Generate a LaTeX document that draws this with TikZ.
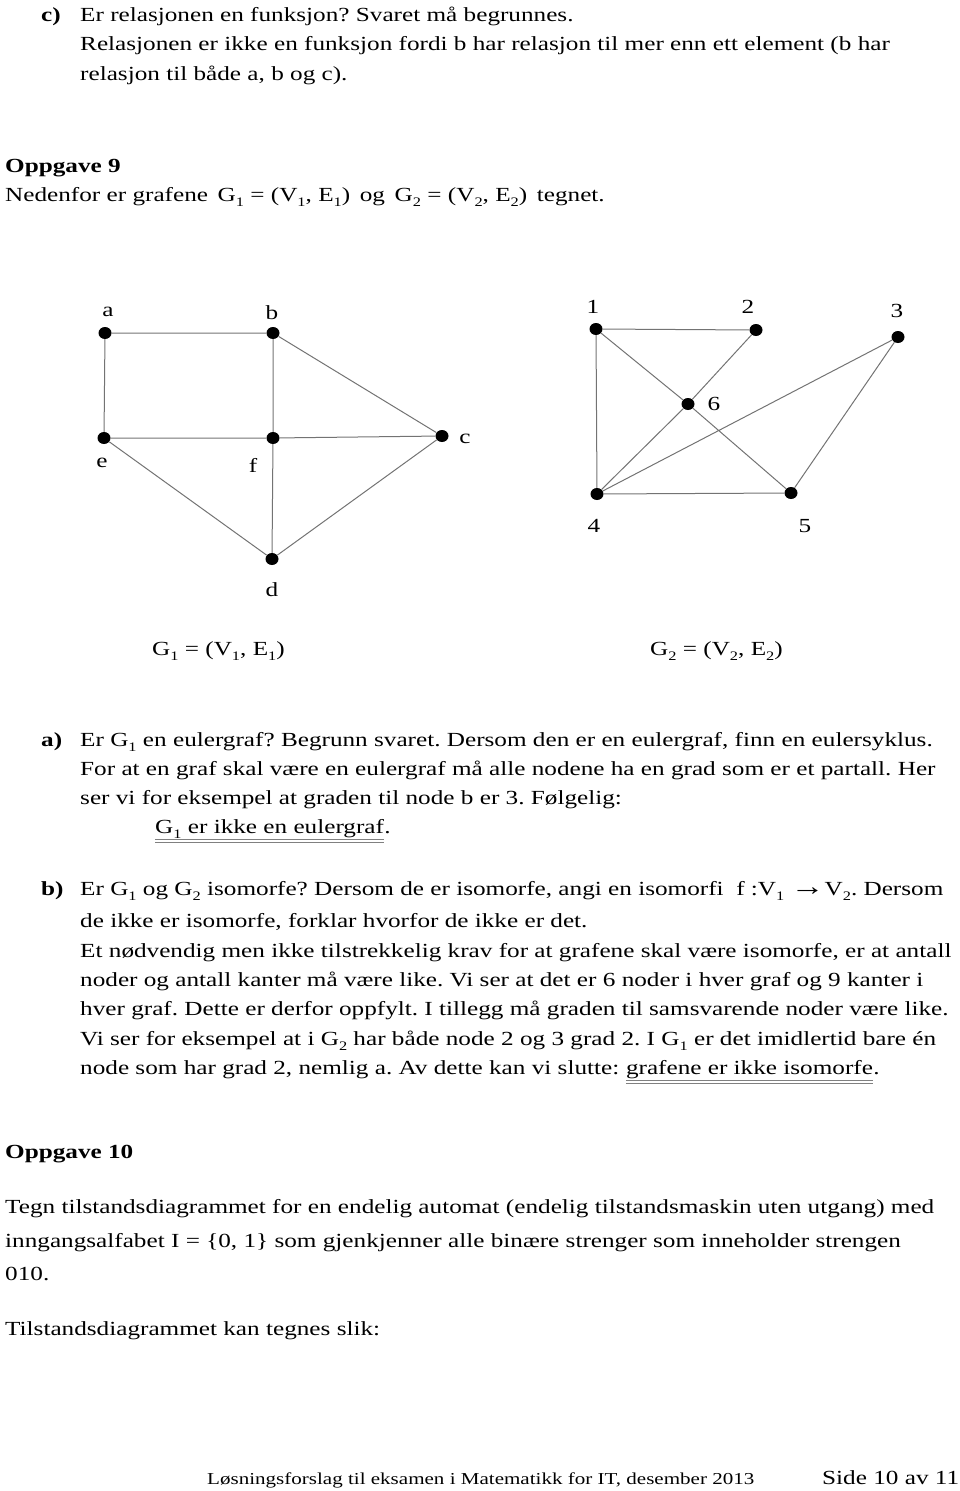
\documentclass[tikz,border=0pt]{standalone}
\usepackage{fontspec}
\setmainfont{Liberation Serif}[FakeStretch=1.26]
\usepackage{xcolor}
\usepackage{tikz}
\usetikzlibrary{shapes.geometric,positioning,calc}

\newcommand{\lowidx}[1]{\raisebox{-0.28em}{\fontsize{13}{13}\selectfont #1}}
\frenchspacing

\begin{document}
\begin{tikzpicture}[
            x=1pt, y=-1pt,
            txt/.style={anchor=base west, inner sep=0pt, font=\fontsize{20}{24}\selectfont},
            hd/.style={txt, font=\fontsize{20}{24}\selectfont\bfseries},
            vtx/.style={ellipse, fill=black, inner sep=0pt, minimum width=13pt, minimum height=12pt},
            vlbl/.style={inner sep=0pt, font=\fontsize{20}{24}\selectfont},
            edge/.style={draw=black!55, line width=1pt},
            ul/.style={draw=black!50, line width=1pt}
        ]
            \useasboundingbox (0,0) rectangle (960,1491);

            % c)
            \node[hd] (cl) at (41,21) {c)};
            \node[txt] (c1) at (80,21) {Er relasjonen en funksjon? Svaret må begrunnes.};
            \node[txt] (c2) at (80,50.5) {Relasjonen er ikke en funksjon fordi b har relasjon til mer enn ett element (b har};
            \node[txt] (c3) at (80,80) {relasjon til både a, b og c).};

            % Oppgave 9
            \node[hd] (opg9) at (5,172) {Oppgave 9};
            \node[txt] (intro) at (5,201) {Nedenfor er grafene \,G\lowidx{1} = (V\lowidx{1}, E\lowidx{1})\, og \,G\lowidx{2} = (V\lowidx{2}, E\lowidx{2})\, tegnet.};

            % G1
            \node[vtx] (a) at (105,333) {};
            \node[vtx] (b) at (273,333) {};
            \node[vtx] (e) at (104,438) {};
            \node[vtx] (f) at (273,438) {};
            \node[vtx] (c) at (442,436) {};
            \node[vtx] (d) at (272,559) {};
            \node[vlbl] (la) at (108,312) {a};
            \node[vlbl] (lb) at (272,313) {b};
            \node[vlbl] (le) at (102,463) {e};
            \node[vlbl] (lf) at (253,465) {f};
            \node[vlbl] (lc) at (465,439) {c};
            \node[vlbl] (ld) at (272,590) {d};
            \draw[edge] (a) -- (b) (a) -- (e) (b) -- (f) (b) -- (c) (e) -- (f)
                        (f) -- (c) (e) -- (d) (f) -- (d) (c) -- (d);

            % G2
            \node[vtx] (v1) at (596,329) {};
            \node[vtx] (v2) at (756,330) {};
            \node[vtx] (v3) at (898,337) {};
            \node[vtx] (v6) at (688,404) {};
            \node[vtx] (v4) at (597,494) {};
            \node[vtx] (v5) at (791,493) {};
            \node[vlbl] (l1) at (593,307) {1};
            \node[vlbl] (l2) at (748,307) {2};
            \node[vlbl] (l3) at (897,311) {3};
            \node[vlbl] (l6) at (714,404) {6};
            \node[vlbl] (l4) at (594,526) {4};
            \node[vlbl] (l5) at (805,526) {5};
            \draw[edge] (v1) -- (v2) (v1) -- (v4) (v1) -- (v6) (v6) -- (v5) (v2) -- (v6)
                        (v6) -- (v4) (v4) -- (v3) (v3) -- (v5) (v4) -- (v5);

            \node[txt] (cap1) at (152,655) {G\lowidx{1} = (V\lowidx{1}, E\lowidx{1})};
            \node[txt] (cap2) at (650,655) {G\lowidx{2} = (V\lowidx{2}, E\lowidx{2})};

            % a)
            \node[hd] (al) at (41,746) {a)};
            \node[txt] (a1) at (80,746) {Er G\lowidx{1} en eulergraf? Begrunn svaret. Dersom den er en eulergraf, finn en eulersyklus.};
            \node[txt] (a2) at (80,775) {For at en graf skal være en eulergraf må alle nodene ha en grad som er et partall. Her};
            \node[txt] (a3) at (80,804) {ser vi for eksempel at graden til node b er 3. Følgelig:};
            \node[txt] (a4) at (155,833) {G\lowidx{1} er ikke en eulergraf};
            \node[txt] (a4p) at (a4.base east) {.};
            \draw[ul] ($(a4.base west)+(0,6)$) -- ($(a4.base east)+(0,6)$);
            \draw[ul] ($(a4.base west)+(0,9)$) -- ($(a4.base east)+(0,9)$);

            % b)
            \node[hd] (bl) at (41,895) {b)};
            \node[txt] (b1) at (80,895) {Er G\lowidx{1} og G\lowidx{2} isomorfe? Dersom de er isomorfe, angi en isomorfi \ f :V\lowidx{1} {\fontsize{27}{24}\selectfont →}V\lowidx{2}. Dersom};
            \node[txt] (b2) at (80,927) {de ikke er isomorfe, forklar hvorfor de ikke er det.};
            \node[txt] (b3) at (80,957) {Et nødvendig men ikke tilstrekkelig krav for at grafene skal være isomorfe, er at antall};
            \node[txt] (b4) at (80,986) {noder og antall kanter må være like. Vi ser at det er 6 noder i hver graf og 9 kanter i};
            \node[txt] (b5) at (80,1015) {hver graf. Dette er derfor oppfylt. I tillegg må graden til samsvarende noder være like.};
            \node[txt] (b6) at (80,1045) {Vi ser for eksempel at i G\lowidx{2} har både node 2 og 3 grad 2. I G\lowidx{1} er det imidlertid bare én};
            \node[txt] (b7) at (80,1074) {node som har grad 2, nemlig a. Av dette kan vi slutte:\ \mbox{}};
            \node[txt] (b7u) at (b7.base east) {grafene er ikke isomorfe};
            \node[txt] (b7p) at (b7u.base east) {.};
            \draw[ul] ($(b7u.base west)+(0,6)$) -- ($(b7u.base east)+(0,6)$);
            \draw[ul] ($(b7u.base west)+(0,9)$) -- ($(b7u.base east)+(0,9)$);

            % Oppgave 10
            \node[hd] (opg10) at (5,1158) {Oppgave 10};
            \node[txt] (t1) at (5,1213) {Tegn tilstandsdiagrammet for en endelig automat (endelig tilstandsmaskin uten utgang) med};
            \node[txt] (t2) at (5,1247) {inngangsalfabet I = \{0, 1\} som gjenkjenner alle binære strenger som inneholder strengen};
            \node[txt] (t3) at (5,1280) {010.};
            \node[txt] (t4) at (5,1335) {Tilstandsdiagrammet kan tegnes slik:};

            % bunntekst
            \node[txt, font=\fontsize{16.7}{20}\selectfont] (foot) at (207,1484) {Løsningsforslag til eksamen i Matematikk for IT, desember 2013};
            \node[txt, font=\fontsize{20}{24}\selectfont] (side) at (822,1484) {Side 10 av 11};
        \end{tikzpicture}
\end{document}
